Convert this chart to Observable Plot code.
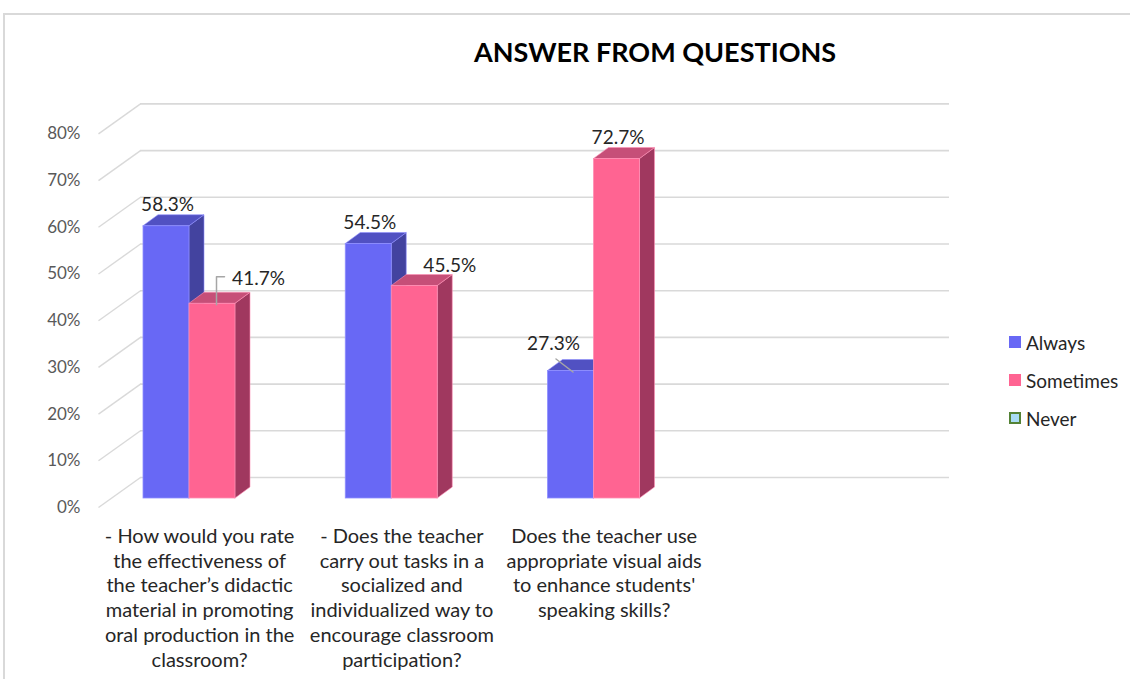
<!DOCTYPE html>
<html>
<head>
<meta charset="utf-8">
<script src="https://cdn.jsdelivr.net/npm/d3@7"></script>
<script src="https://cdn.jsdelivr.net/npm/@observablehq/plot@0.6"></script>
<style>
  html, body { margin: 0; padding: 0; background: #fff; overflow: hidden; }
  #wrap { position: relative; width: 1130px; height: 679px; font-family: Lato, "Open Sans", sans-serif; }
  #border { position: absolute; left: 3px; top: 13px; width: 1200px; height: 800px; border: 2px solid #d9d9d9; box-sizing: border-box; }
  #title { position: absolute; left: 0; width: 1310px; top: 35px; text-align: center; font-weight: 700; font-size: 27px; color: #000; }
  #legend { position: absolute; left: 1009px; top: 323px; font-size: 19px; color: #262626; }
  .item { display: flex; align-items: center; height: 38px; }
  .sw { width: 12px; height: 12px; margin-right: 5px; box-sizing: border-box; }
  #chart { position: absolute; left: 0; top: 0; }
</style>
</head>
<body>
<div id="wrap">
  <div id="border"></div>
  <div id="chart"></div>
  <div id="title"></div>
  <div id="legend"></div>
</div>
<script>
// ---- data ----
const titleText = "ANSWER FROM QUESTIONS";
const categories = [
  "- How would you rate\nthe effectiveness of\nthe teacher’s didactic\nmaterial in promoting\noral production in the\nclassroom?",
  "- Does the teacher\ncarry out tasks in a\nsocialized and\nindividualized way to\nencourage classroom\nparticipation?",
  "Does the teacher use\nappropriate visual aids\nto enhance students'\nspeaking skills?"
];
const series = ["Always", "Sometimes", "Never"];
const always = [0.583, 0.545, 0.273];
const sometimes = [0.417, 0.455, 0.727];
const never = [0, 0, 0];
const yTicks = [0, 0.1, 0.2, 0.3, 0.4, 0.5, 0.6, 0.7, 0.8];

// ---- styles ----
const front = {Always: "#6868f5", Sometimes: "#ff6492", Never: "#a9dcf5"};
const topC = {Always: "#5151c2", Sometimes: "#c64f78", Never: "#86b0c4"};
const sideC = {Always: "#43439f", Sometimes: "#a0385f", Never: "#6d8fa0"};
const edge = {Always: "#8f8fff", Sometimes: "#ff8fb5", Never: "#548235"};
const legendStroke = {Never: "#548235"};

// ---- layout ----
const W = 1130, H = 679, ML = 111, MR = 210, MT = 31, MB = 181;
const SLOTS = 4;               // plot area holds four category slots
const PX_X = (W - ML - MR) / SLOTS;
const PX_Y = (H - MT - MB);     // y domain [0,1]
const PAD = 32 / PX_X, BW = 46 / PX_X;
const DX = 15 / PX_X, DY = 11 / PX_Y;          // bar depth
const WX = 29, WY = 21;                         // bar plane -> back wall (px)
const FX = 13, FY = 9;                          // front plane -> bar plane (px)

const values = [always, sometimes, never];
const bars = [];
categories.forEach((c, i) => series.forEach((s, j) => {
  const v = values[j][i];
  const x1 = i + PAD + j * BW;
  bars.push({id: i + "-" + j, i, s, v, x1, x2: x1 + BW, cx: x1 + BW / 2});
}));
const shown = bars.filter(b => b.v > 0);

const sides = shown.flatMap(b => [
  {id: b.id, s: b.s, x: b.x2, y1: 0, y2: b.v},
  {id: b.id, s: b.s, x: b.x2 + DX, y1: DY, y2: b.v + DY}
]);
const tops = shown.flatMap(b => [
  {id: b.id, s: b.s, y: b.v, x1: b.x1, x2: b.x2},
  {id: b.id, s: b.s, y: b.v + DY, x1: b.x1 + DX, x2: b.x2 + DX}
]);

// label placement (px right, px up from the bar's front top edge)
const nudge = {"0-1": [46, 25], "1-1": [35, 20.5], "2-0": [-17.5, 27.5]};
const lab = b => nudge[b.id] || [1, 21];

const leaders = [];
{
  const b = bars.find(d => d.id === "0-1");
  leaders.push({id: "a", x: b.cx + 4 / PX_X, y: b.v - 1 / PX_Y});
  leaders.push({id: "a", x: b.cx + 4 / PX_X, y: b.v + 27 / PX_Y});
  leaders.push({id: "a", x: b.cx + 12 / PX_X, y: b.v + 27 / PX_Y});
  const c = bars.find(d => d.id === "2-0");
  leaders.push({id: "b", x: c.cx + 2 / PX_X, y: c.v - 1 / PX_Y});
  leaders.push({id: "b", x: c.cx - 15 / PX_X, y: c.v + 12 / PX_Y});
}

const chart = Plot.plot({
  width: W, height: H,
  marginLeft: ML, marginRight: MR, marginTop: MT, marginBottom: MB,
  x: {type: "linear", domain: [0, SLOTS], axis: null},
  y: {type: "linear", domain: [0, 1], axis: null},
  style: {fontFamily: "Lato, 'Open Sans', sans-serif", background: "transparent"},
  marks: [
    // back wall gridlines
    Plot.ruleY(yTicks, {x1: 0, x2: SLOTS, dx: WX, dy: -WY, stroke: "#d9d9d9", strokeWidth: 1.6}),
    // left wall diagonals (front plane -> back wall)
    Plot.link(yTicks, {x1: 0, y1: d => d, x2: (WX + FX) / PX_X, y2: d => d + (WY + FY) / PX_Y, dx: -FX, dy: FY, stroke: "#d9d9d9", strokeWidth: 1.4}),
    // y axis labels on the front plane
    Plot.axisY(yTicks, {anchor: "left", tickSize: 0, tickPadding: 18, dx: -FX, dy: FY, tickFormat: d => Math.round(d * 100) + "%", fontSize: 17, color: "#595959", label: null}),
    // bar side faces
    Plot.areaY(sides, {x: "x", y1: "y1", y2: "y2", z: "id", fill: d => sideC[d.s], stroke: d => edge[d.s], strokeWidth: 0.6, curve: "linear"}),
    // bar top faces
    Plot.areaX(tops, {y: "y", x1: "x1", x2: "x2", z: "id", fill: d => topC[d.s], stroke: d => edge[d.s], strokeWidth: 0.6, curve: "linear"}),
    // bar front faces
    Plot.rect(shown, {x1: "x1", x2: "x2", y1: 0, y2: "v", fill: d => front[d.s], stroke: d => edge[d.s], strokeWidth: 0.8}),
    // leader lines
    Plot.line(leaders, {x: "x", y: "y", z: "id", stroke: "#a6a6a6", strokeWidth: 1.5}),
    // data labels
    Plot.text(shown, {x: d => d.cx + lab(d)[0] / PX_X, y: d => d.v + lab(d)[1] / PX_Y, text: d => (d.v * 100).toFixed(1) + "%", fontSize: 19, fill: "#262626"}),
    // category labels (on the front plane)
    Plot.text(categories, {x: (d, i) => i + 0.5, y: 0, text: d => d, dx: -FX, dy: 27, lineAnchor: "top", lineHeight: 1.235, fontSize: 20, fill: "#262626"})
  ]
});
document.getElementById("chart").appendChild(chart);

document.getElementById("title").textContent = titleText;
const leg = document.getElementById("legend");
series.forEach(s => {
  const it = document.createElement("div");
  it.className = "item";
  const sw = document.createElement("div");
  sw.className = "sw";
  sw.style.background = front[s];
  sw.style.border = legendStroke[s] ? "2px solid " + legendStroke[s] : "none";
  const t = document.createElement("span");
  t.textContent = s;
  it.appendChild(sw); it.appendChild(t);
  leg.appendChild(it);
});
</script>
</body>
</html>
